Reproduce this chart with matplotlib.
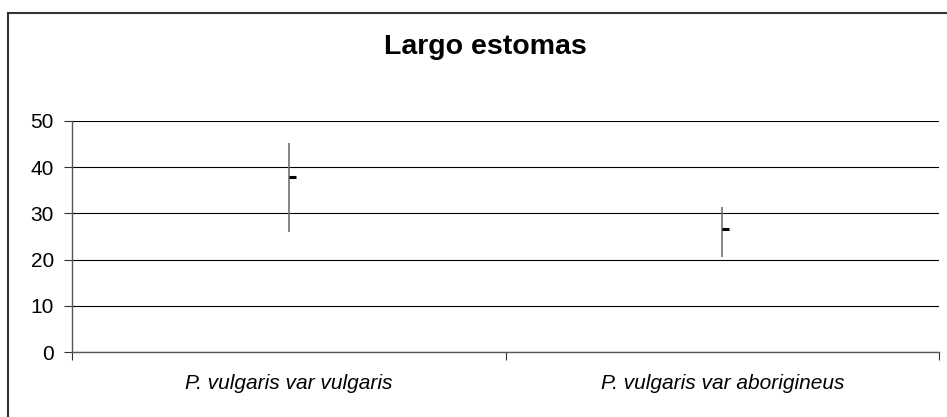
import matplotlib
matplotlib.use('Agg')
import matplotlib.pyplot as plt
from matplotlib.lines import Line2D
from matplotlib.path import Path

plt.rcParams['font.family'] = ['Liberation Sans', 'DejaVu Sans']

categories = ['P. vulgaris var vulgaris', 'P. vulgaris var aborigineus']
highs = [45.2, 31.4]
lows = [26.0, 20.6]
means = [37.8, 26.6]

fig = plt.figure(figsize=(9.47, 4.17), dpi=100)
ax = fig.add_axes([72 / 947, 1 - 352 / 417, 867 / 947, 231 / 417])

xpos = [i + 0.5 for i in range(len(categories))]

# high-low lines
ax.vlines(xpos, lows, highs, colors='#707070', linewidth=1.2, zorder=3)
# mean tick to the right of the line
tick_marker = Path([(0, 0), (1, 0)], [Path.MOVETO, Path.LINETO])
ax.plot(xpos, means, linestyle='none', marker=tick_marker, markersize=10,
        markeredgewidth=2.2, color='black', zorder=4)

ax.set_xlim(0, len(categories))
ax.set_ylim(0, 50)
ax.set_yticks(range(0, 51, 10))
ax.grid(axis='y', color='black', linewidth=0.8)
ax.set_axisbelow(True)

ax.set_xticks(range(len(categories) + 1))
ax.set_xticklabels([])
ax.set_xticks(xpos, minor=True)
ax.set_xticklabels(categories, minor=True, fontstyle='italic', fontsize=15)
ax.tick_params(axis='x', which='minor', length=0, pad=16)
ax.tick_params(axis='x', which='major', length=6, width=0.8, color='#333333')
ax.tick_params(axis='y', length=6, width=0.8, color='#333333', pad=7, labelsize=15)

for side in ['top', 'right']:
    ax.spines[side].set_visible(False)
for side in ['left', 'bottom']:
    ax.spines[side].set_color('#555555')
    ax.spines[side].set_linewidth(1.0)

fig.text(485 / 947, 1 - 47 / 417, 'Largo estomas', ha='center', va='center',
         fontsize=20.5, fontweight='bold')

# outer chart frame (left and top edges visible)
fig.add_artist(Line2D([8 / 947, 8 / 947], [0, 1 - 13 / 417], transform=fig.transFigure,
                      color='#333333', linewidth=1.5))
fig.add_artist(Line2D([8 / 947, 1], [1 - 13 / 417, 1 - 13 / 417], transform=fig.transFigure,
                      color='#333333', linewidth=1.5))

fig.savefig('out.png', dpi=100)
